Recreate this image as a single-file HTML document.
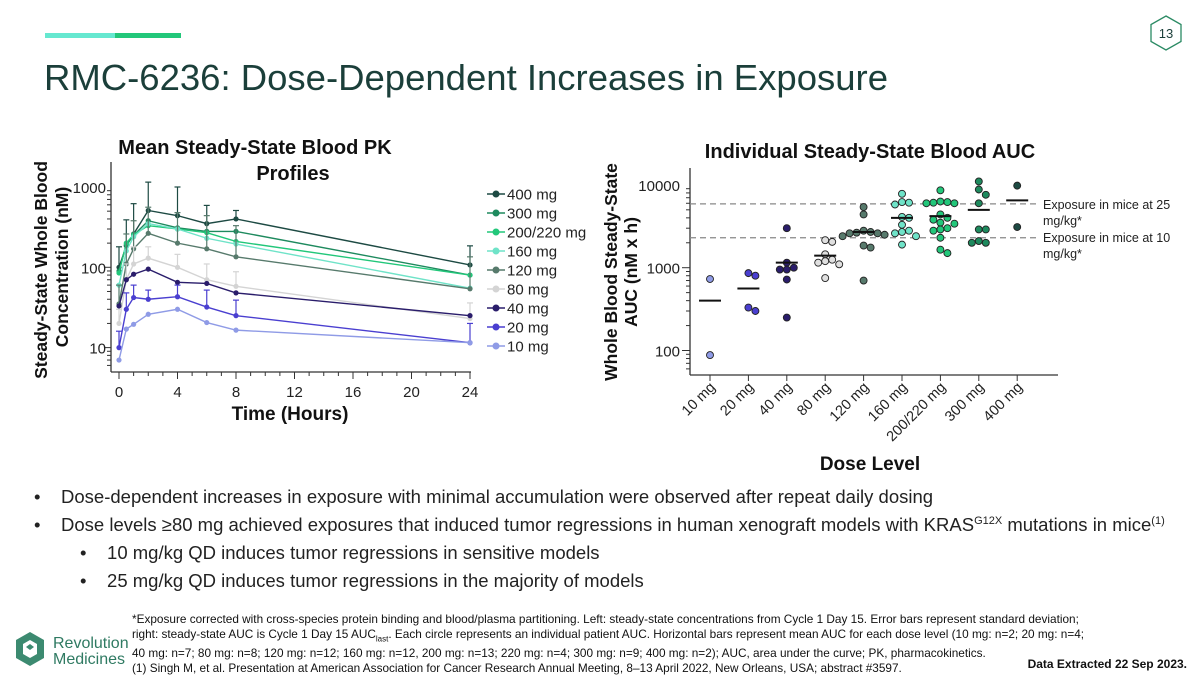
<!DOCTYPE html>
<html><head><meta charset="utf-8"><style>
body{margin:0;width:1200px;height:675px;background:#fff;font-family:"Liberation Sans",sans-serif;overflow:hidden;position:relative}
.a{position:absolute;white-space:nowrap}
.b{font-size:18.5px;color:#222}
.fn{font-size:11.8px;color:#111;line-height:15px}
</style></head><body>
<div class="a" style="left:45px;top:33px;width:70px;height:5px;background:#66e8d0"></div>
<div class="a" style="left:115px;top:33px;width:66px;height:5px;background:#22c77a"></div>
<svg class="a" style="left:1148px;top:14px" width="36" height="38"><polygon points="18,2 33,10.5 33,27.5 18,36 3,27.5 3,10.5" fill="none" stroke="#2a8a63" stroke-width="1.3"/><text x="18" y="24" text-anchor="middle" font-size="13" fill="#1b3f3a" font-family="Liberation Sans">13</text></svg>
<div class="a" style="left:44px;top:57px;font-size:36.5px;color:#1b3f3a">RMC-6236: Dose-Dependent Increases in Exposure</div>

<svg class="a" style="left:0;top:0" width="600" height="440" id="left"></svg>
<svg class="a" style="left:0;top:0;left:0" width="1200" height="480" id="right"></svg>

<div class="a b" style="left:34px;top:486px">•&nbsp;&nbsp;&nbsp;&nbsp;Dose-dependent increases in exposure with minimal accumulation were observed after repeat daily dosing</div>
<div class="a b" style="left:34px;top:514px">•&nbsp;&nbsp;&nbsp;&nbsp;Dose levels ≥80 mg achieved exposures that induced tumor regressions in human xenograft models with KRAS<sup style="font-size:11px">G12X</sup> mutations in mice<sup style="font-size:11px">(1)</sup></div>
<div class="a b" style="left:80px;top:542px">•&nbsp;&nbsp;&nbsp;&nbsp;10 mg/kg QD induces tumor regressions in sensitive models</div>
<div class="a b" style="left:80px;top:570px">•&nbsp;&nbsp;&nbsp;&nbsp;25 mg/kg QD induces tumor regressions in the majority of models</div>

<div class="a fn" style="left:132px;top:612px">*Exposure corrected with cross-species protein binding and blood/plasma partitioning. Left: steady-state concentrations from Cycle 1 Day 15. Error bars represent standard deviation;<br>right: steady-state AUC is Cycle 1 Day 15 AUC<sub style="font-size:8px">last</sub>. Each circle represents an individual patient AUC. Horizontal bars represent mean AUC for each dose level (10 mg: n=2; 20 mg: n=4;<br>40 mg: n=7; 80 mg: n=8; 120 mg: n=12; 160 mg: n=12, 200 mg: n=13; 220 mg: n=4; 300 mg: n=9; 400 mg: n=2); AUC, area under the curve; PK, pharmacokinetics.<br>(1) Singh M, et al. Presentation at American Association for Cancer Research Annual Meeting, 8–13 April 2022, New Orleans, USA; abstract #3597.</div>
<div class="a" style="right:13px;top:657px;font-size:12px;font-weight:bold;color:#111">Data Extracted 22 Sep 2023.</div>

<svg class="a" style="left:10px;top:628px" width="120" height="42"><g fill="#2f7a62"><polygon points="20,4 34,12 34,30 20,38 6,30 6,12" fill="#3c8a70"/><polygon points="20,12 27,16 27,26 20,30 13,26 13,16" fill="#fff"/><polygon points="20,16 24,19 20,22 16,19" fill="#3c8a70"/></g><text x="43" y="20" font-size="16" fill="#2f7a62" font-family="Liberation Sans">Revolution</text><text x="43" y="36" font-size="16" fill="#2f7a62" font-family="Liberation Sans">Medicines</text></svg>

<script>
const NS="http://www.w3.org/2000/svg";
function mk(p,t,at,txt){const e=document.createElementNS(NS,t);for(const k in at)e.setAttribute(k,at[k]);if(txt!==undefined)e.textContent=txt;p.appendChild(e);return e;}
// ---------- LEFT CHART DATA ----------
const times=[0,0.5,1,2,4,6,8,24];
const seriesNames=["400 mg","300 mg","200/220 mg","160 mg","120 mg","80 mg","40 mg","20 mg","10 mg"];
const s400=[100,185,260,510,440,350,400,107];
const s300=[90,190,250,380,310,280,280,80];
const s200=[85,200,255,330,300,270,210,80];
const s160=[60,160,240,350,300,230,195,55];
const s120=[35,110,170,265,200,170,135,54];
const s80=[20,70,110,130,100,70,58,23];
const s40=[33,70,82,95,65,63,48,25];
const s20=[10,30,42,40,43,32,25,11.5];
const s10=[7,17,19.5,26,30,20.5,16.5,11.5];
const e400=[180,390,620,1150,1000,590,510,185];
const e120=[60,260,380,560,480,440,330,135];
const e80=[30,110,180,180,145,110,88,36];
const e20=[16,48,60,52,60,52,39,20];
const xTicks=[0,4,8,12,16,20,24];
const yTicksL=[10,100,1000];
const allS=[s400,s300,s200,s160,s120,s80,s40,s20,s10];
const errS=[e400,null,null,null,e120,e80,null,e20,null];
const cols=["#1d4a43","#1e8a5e","#22c77a","#6fe3c8","#577a6c","#d4d4d4","#2a1d6b","#4a3fd0","#8f9be6"];
const L=document.getElementById('left');
const lx=t=>119+t*(470-119)/24;
const ly=v=>267.3-(Math.log10(v)-2)*80.3;
mk(L,'line',{x1:111,y1:162,x2:111,y2:372,stroke:'#333','stroke-width':1.3});
mk(L,'line',{x1:111,y1:372,x2:471,y2:372,stroke:'#333','stroke-width':1.3});
for(let d=0;d<3;d++)for(let m=1;m<10;m++){const v=m*Math.pow(10,d);if(v<5.2)continue;const y=ly(v);if(y<162)continue;mk(L,'line',{x1:m==1?104:107,y1:y,x2:111,y2:y,stroke:'#333','stroke-width':1});}
yTicksL.forEach(v=>{const t=mk(L,'text',{x:106,y:ly(v)+6,'text-anchor':'end','font-size':15,fill:'#222'},String(v));});
for(let t=0;t<=24;t++){mk(L,'line',{x1:lx(t),y1:372,x2:lx(t),y2:t%4==0?379:376,stroke:'#333','stroke-width':1});}
xTicks.forEach(v=>{const t=mk(L,'text',{x:lx(v),y:397,'text-anchor':'middle','font-size':15,fill:'#222'},String(v));});
allS.forEach((s,i)=>{
  const g=mk(L,'g',{});
  
  
  const er=errS[i];
  if(er)times.forEach((t,j)=>{const x=lx(t);mk(g,'line',{x1:x,y1:ly(s[j]),x2:x,y2:ly(er[j]),stroke:cols[i],'stroke-width':1.2});mk(g,'line',{x1:x-3,y1:ly(er[j]),x2:x+3,y2:ly(er[j]),stroke:cols[i],'stroke-width':1.2});});
  mk(g,'polyline',{points:times.map((t,j)=>lx(t)+','+ly(s[j])).join(' '),fill:'none',stroke:cols[i],'stroke-width':1.4});
  times.forEach((t,j)=>{const c=mk(g,'circle',{cx:lx(t),cy:ly(s[j]),r:2.6,fill:cols[i]});});
  const yy=194+i*19;
  const lg=mk(L,'g',{});
  
  
  mk(lg,'line',{x1:487,y1:yy,x2:505,y2:yy,stroke:cols[i],'stroke-width':1.5});
  mk(lg,'circle',{cx:496,cy:yy,r:3.5,fill:cols[i]});
  mk(lg,'text',{x:507,y:yy+5.5,'font-size':15,fill:'#222'},seriesNames[i]);
});
mk(L,'text',{x:255,y:154,'text-anchor':'middle','font-size':20,'font-weight':'bold',fill:'#111'},'Mean Steady-State Blood PK');
mk(L,'text',{x:293,y:180,'text-anchor':'middle','font-size':20,'font-weight':'bold',fill:'#111'},'Profiles');
mk(L,'text',{x:290,y:420,'text-anchor':'middle','font-size':19,'font-weight':'bold',fill:'#111'},'Time (Hours)');
mk(L,'text',{x:0,y:0,transform:'translate(47,270) rotate(-90)','text-anchor':'middle','font-size':17.5,'font-weight':'bold',fill:'#111'},'Steady-State Whole Blood');
mk(L,'text',{x:0,y:0,transform:'translate(68,267) rotate(-90)','text-anchor':'middle','font-size':17.5,'font-weight':'bold',fill:'#111'},'Concentration (nM)');

// ---------- RIGHT CHART DATA ----------
const doses=["10 mg","20 mg","40 mg","80 mg","120 mg","160 mg","200/220 mg","300 mg","400 mg"];
const auc10=[730,88];
const auc20=[800,860,300,330];
const auc40=[3000,950,1000,1150,950,720,250];
const auc80=[2050,2150,1250,1450,1150,1100,1200,750];
const auc120=[5400,4400,2500,2600,2800,2700,2600,2400,1750,1850,700,2650];
const auc160=[7800,6100,6200,5800,4100,4000,3300,2800,2700,2600,2400,1900];
const auc200=[8600,6300,6100,6000,6200,6000,4400,4000,3800,3500,3400,3000,2800,2900,2300,1650,1500];
const auc300=[11000,8800,7600,6000,2900,2900,2000,2100,2000];
const auc400=[9800,3100];
const aucMeans=[400,560,1150,1400,2700,4000,4200,5000,6500];
const mouseExposure=[5900,2300];
const yTicksR=[100,1000,10000];
const allA=[auc10,auc20,auc40,auc80,auc120,auc160,auc200,auc300,auc400];
const fills=["#8f9be6","#4a3fd0","#2a1d6b","#e0e0e0","#577a6c","#6fe3c8","#22c77a","#1e8a5e","#1d4a43"];
const R=document.getElementById('right');
const rx=i=>710+i*38.4;
const ry=v=>267.7-(Math.log10(v)-3)*82.8;
mk(R,'line',{x1:690,y1:168,x2:690,y2:375,stroke:'#333','stroke-width':1.3});
mk(R,'line',{x1:690,y1:375,x2:1058,y2:375,stroke:'#333','stroke-width':1.3});
for(let d=1;d<4;d++)for(let m=1;m<10;m++){const v=m*Math.pow(10,d);if(v<55)continue;const y=ry(v);if(y<168)continue;mk(R,'line',{x1:m==1?682:686,y1:y,x2:690,y2:y,stroke:'#333','stroke-width':1});}
yTicksR.forEach(v=>{const t=mk(R,'text',{x:680,y:ry(v)+6,'text-anchor':'end','font-size':15,fill:'#222'},String(v));});
mouseExposure.forEach(v=>{const l=mk(R,'line',{x1:690,y1:ry(v),x2:1040,y2:ry(v),stroke:'#888','stroke-width':1.3,'stroke-dasharray':'6,4'});});
doses.forEach((d,i)=>{
  const x=rx(i);
  mk(R,'line',{x1:x,y1:375,x2:x,y2:381,stroke:'#333','stroke-width':1});
  const t=mk(R,'text',{x:0,y:0,transform:`translate(${x+6},388) rotate(-45)`,'text-anchor':'end','font-size':14.5,fill:'#222'},d);
  
  
  const g=mk(R,'g',{});
  
  
  const pts=allA[i].map(v=>({v,y:ry(v)})).sort((a,b)=>a.y-b.y);
  const placed=[];
  pts.forEach(p=>{
    let off=0;
    for(let k=0;k<12;k++){const cand=k==0?0:(k%2?1:-1)*Math.ceil(k/2)*7;
      if(!placed.some(q=>Math.hypot(q.x-(x+cand),q.y-p.y)<6.5)){off=cand;break;}}
    placed.push({x:x+off,y:p.y});
    const c=mk(g,'circle',{cx:x+off,cy:p.y,r:3.5,fill:fills[i],stroke:'#222','stroke-width':0.9});
    
    
  });
  const m=mk(g,'line',{x1:x-11,y1:ry(aucMeans[i]),x2:x+11,y2:ry(aucMeans[i]),stroke:'#111','stroke-width':2});
  
  
});
mk(R,'text',{x:870,y:158,'text-anchor':'middle','font-size':20,'font-weight':'bold',fill:'#111'},'Individual Steady-State Blood AUC');
mk(R,'text',{x:870,y:470,'text-anchor':'middle','font-size':19,'font-weight':'bold',fill:'#111'},'Dose Level');
mk(R,'text',{x:0,y:0,transform:'translate(617,272) rotate(-90)','text-anchor':'middle','font-size':17.5,'font-weight':'bold',fill:'#111'},'Whole Blood Steady-State');
mk(R,'text',{x:0,y:0,transform:'translate(637,272) rotate(-90)','text-anchor':'middle','font-size':17.5,'font-weight':'bold',fill:'#111'},'AUC (nM x h)');
[["Exposure in mice at 25",209],["mg/kg*",225],["Exposure in mice at 10",242],["mg/kg*",258]].forEach(a=>mk(R,'text',{x:1043,y:a[1],'font-size':12.5,fill:'#222'},a[0]));
</script>
</body></html>
